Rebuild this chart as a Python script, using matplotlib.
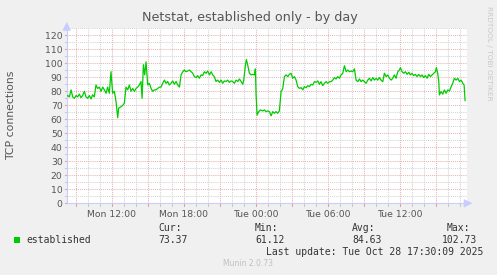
import matplotlib
matplotlib.use("Agg")
import matplotlib.pyplot as plt
import numpy as np

# ---- data (hours since Mon 00:00, TCP connections) ----
hours = [
    8.19, 8.33, 8.47, 8.61, 8.75, 8.89, 9.03, 9.16, 9.30, 9.44, 9.58, 9.72, 9.86, 10.00,
    10.14, 10.28, 10.41, 10.55, 10.69, 10.83, 10.97, 11.11, 11.25, 11.39, 11.53, 11.66,
    11.80, 11.94, 12.08, 12.22, 12.36, 12.50, 12.58, 12.78, 12.92, 13.05, 13.19, 13.33,
    13.47, 13.61, 13.75, 13.89, 14.03, 14.16, 14.30, 14.44, 14.53, 14.64, 14.75, 14.86,
    15.00, 15.14, 15.28, 15.41, 15.55, 15.69, 15.83, 15.97, 16.11, 16.25, 16.39,
    16.53, 16.66, 16.80, 16.94, 17.08, 17.22, 17.36, 17.50, 17.64, 17.78, 17.92, 18.05,
    18.19, 18.33, 18.47, 18.61, 18.75, 18.89, 19.03, 19.16, 19.30, 19.44, 19.58, 19.72,
    19.86, 20.00, 20.14, 20.28, 20.41, 20.55, 20.69, 20.83, 20.97, 21.11, 21.25, 21.39,
    21.53, 21.66, 21.80, 21.94, 22.08, 22.22, 22.36, 22.50, 22.64, 22.78, 22.92, 23.00,
    23.14, 23.22, 23.33, 23.47, 23.61, 23.75, 23.89, 23.97, 24.03, 24.11, 24.25, 24.39,
    24.58, 24.72,
    24.86, 25.00, 25.14, 25.28, 25.42, 25.55, 25.69, 25.83, 25.97, 26.11, 26.25, 26.39,
    26.53, 26.67, 26.80, 26.94, 27.08, 27.22, 27.36, 27.50, 27.64, 27.78, 27.92, 28.05,
    28.19, 28.33, 28.47, 28.61, 28.75, 28.89, 29.03, 29.17, 29.30, 29.44, 29.58, 29.72,
    29.86, 30.00, 30.14, 30.28, 30.42, 30.55, 30.69, 30.83, 30.97, 31.11, 31.25, 31.39,
    31.53, 31.67, 31.80, 31.94, 32.08, 32.22, 32.36, 32.50, 32.64, 32.78, 32.92, 33.05,
    33.19, 33.33, 33.47, 33.61, 33.75, 33.89, 34.03, 34.16, 34.30, 34.44, 34.58, 34.72,
    34.86, 35.00, 35.14, 35.28, 35.41, 35.55, 35.69, 35.83, 35.97, 36.05, 36.19, 36.33,
    36.47, 36.61, 36.75, 36.89, 37.02, 37.16, 37.30, 37.44, 37.58, 37.72, 37.86, 37.99,
    38.13, 38.27, 38.41, 38.55, 38.69, 38.83, 38.97, 39.05, 39.16, 39.25, 39.30, 39.44,
    39.58, 39.72, 39.86, 40.00, 40.14, 40.28, 40.41, 40.55, 40.69, 40.83, 40.97, 41.11,
    41.25, 41.36, 41.44,
]
established = [
    76.2, 77, 76, 81, 76, 75, 77, 76, 78, 75.5, 77, 80, 76, 75,
    77, 74.5, 77.5, 76, 84.5, 82, 83, 80, 83, 81, 78.6, 83,
    78.6, 94, 78.6, 80, 72.6, 61.12, 68, 69, 70, 71.4, 83, 81,
    84.5, 80, 82, 80, 82, 83, 84.5, 87, 75, 99, 91.7, 101,
    84.5, 85.7, 82, 80, 81, 81, 82, 83, 83, 85.7, 88,
    85.7, 87, 84.5, 85.7, 87.4, 85, 87, 84.5, 83, 91.7, 94, 95.2,
    94, 94.5, 95.2, 94, 92.9, 90.5, 89.8, 91.2, 89.3, 91.7, 91.2, 94,
    92.9, 94.5, 91.7, 94, 91.7, 90.5, 87, 88, 86.4, 88, 85.7, 87.4,
    87, 88, 86.4, 87.4, 87, 85.7, 88, 87, 88.8, 87, 85, 88,
    98.8, 102.73, 98.8, 92.9, 91.7, 92.1, 91.7, 96, 77.4, 63, 65.5, 66.7,
    66, 66.7,
    65.5, 66, 65.5, 62.5, 65.5, 64.3, 65.5, 64.3, 66, 79.8, 82, 90.5,
    91.7, 90.5, 92.1, 92.9, 89.3, 90.5, 88, 83.3, 82.1, 82.6, 81, 83.3,
    82.6, 84, 83.3, 85, 84.5, 86.9, 86.4, 87.4, 85, 86.9, 84, 85.7,
    86.9, 85.7, 86.9, 86.9, 88, 89.8, 88.8, 90.5, 89.3, 91.7, 92.9, 98.3,
    94, 95.2, 94, 94.5, 94, 96, 88, 86.9, 88.8, 86.9, 88, 86.9,
    85.7, 88, 89.3, 87.4, 89.8, 88, 89.3, 88, 89.8, 88, 86.9, 92.9,
    90.5, 91.7, 89.3, 88, 89.3, 91.7, 89.3, 94, 95.2, 96.9, 94, 92.9,
    94, 92.1, 93.6, 91.7, 92.9, 91.2, 92.1, 90.5, 92.1, 90.5, 91.7, 89.8,
    91.2, 89.3, 92.1, 90.5, 91.7, 92.9, 94, 96.9, 92.9, 86.9, 77.4, 79.8,
    77.9, 81, 78.6, 81, 80.2, 83.3, 85.7, 89.3, 88, 89.3, 86.9, 88,
    85.7, 84.5, 73.37,
]
xtick_hours = [12, 18, 24, 30, 36]
xtick_labels = ["Mon 12:00", "Mon 18:00", "Tue 00:00", "Tue 06:00", "Tue 12:00"]
yticks = list(range(0, 121, 10))
stat_names = ["Cur:", "Min:", "Avg:", "Max:"]
stat_values = ["73.37", "61.12", "84.63", "102.73"]
series_name = "established"

BG = "#F0F0F0"
GREEN = "#00CC00"
AXCOL = "#C8CCFF"
MINOR = "#D4D4D4"
MAJOR = "#E8B4B4"
TXT = "#555555"

W, H = 497, 275
fig = plt.figure(figsize=(W / 100, H / 100), dpi=100, facecolor=BG)

x0, x1 = 66.7, 467.0
y0 = 203.3
xmin, xmax = 8.25, 41.6
ymax = 125.5
ytop = y0 - ymax * 1.4
ax = fig.add_axes([x0 / W, 1 - y0 / H, (x1 - x0) / W, (y0 - ytop) / H])
ax.set_facecolor("white")
ax.set_xlim(xmin, xmax)
ax.set_ylim(0, ymax)

dot = (0, (1, 1))
# grid lines
for h in np.arange(9, 42, 1):
    major = (h % 3 == 0)
    ax.axvline(h, color=MAJOR if major else MINOR, lw=0.75, ls=dot, zorder=1)
for v in range(5, 126, 5):
    major = (v % 10 == 0)
    ax.axhline(v, color=MAJOR if major else MINOR, lw=0.75, ls=dot, zorder=1)

ax.plot(hours, established, color=GREEN, lw=0.9, zorder=3, solid_joinstyle="round")

for s in ["top", "right"]:
    ax.spines[s].set_visible(False)
for s in ["left", "bottom"]:
    ax.spines[s].set_color(AXCOL)
    ax.spines[s].set_linewidth(0.8)

ax.set_yticks(yticks)
ax.set_yticklabels([str(v) for v in yticks])
ax.set_xticks(xtick_hours)
ax.set_xticklabels(xtick_labels)
ax.tick_params(axis="both", length=0, labelsize=6.7, labelcolor=TXT, pad=3)
ax.tick_params(axis="x", pad=5)

# small tick marks along the axes
for h in np.arange(9, 42, 1):
    ax.plot([h, h], [0, -1.6], color=("#E0A0A0" if h % 3 == 0 else "#C8C8C8"),
            lw=0.75, clip_on=False, zorder=2)
for v in range(0, 126, 5):
    ax.plot([xmin - 0.18, xmin], [v, v], color=("#E0A0A0" if v % 10 == 0 else "#C8C8C8"),
            lw=0.75, clip_on=False, zorder=2)

# arrows at axis ends
ax.annotate("", xy=(xmin, 129.5), xytext=(xmin, ymax), annotation_clip=False,
            arrowprops=dict(arrowstyle="-|>,head_length=0.5,head_width=0.25",
                            color=AXCOL, lw=0.8, shrinkA=0, shrinkB=0))
ax.annotate("", xy=(xmax + 0.45, 0), xytext=(xmax, 0), annotation_clip=False,
            arrowprops=dict(arrowstyle="-|>,head_length=0.5,head_width=0.25",
                            color=AXCOL, lw=0.8, shrinkA=0, shrinkB=0))

fig.text(11 / W, 1 - 115 / H, "TCP connections", rotation=90, ha="center", va="center",
         fontsize=7.8, color=TXT)

fig.text(250 / W, 1 - 17 / H, "Netstat, established only - by day", ha="center", va="center",
         fontsize=9.2, color=TXT)

fig.text(489 / W, 1 - 53 / H, "RRDTOOL / TOBI OETIKER", rotation=-90, ha="center", va="center",
         fontsize=5.3, color="#C8C8C8")

# legend
mono = "DejaVu Sans Mono"
fig.patches.append(plt.Rectangle((14 / W, 1 - 243 / H), 6 / W, 6 / H, transform=fig.transFigure,
                                 facecolor=GREEN, edgecolor="none"))
fig.text(26 / W, 1 - 240 / H, series_name, family=mono, fontsize=7, color="#333333",
         ha="left", va="center")
head_x = [158, 255, 352, 447]
val_x = [158, 255, 352, 442]
for name, val, hx, vx in zip(stat_names, stat_values, head_x, val_x):
    fig.text(hx / W, 1 - 228 / H, name, family=mono, fontsize=7, color="#333333",
             ha="left", va="center")
    fig.text(vx / W, 1 - 240 / H, val, family=mono, fontsize=7, color="#333333",
             ha="left", va="center")
fig.text(483 / W, 1 - 252 / H, "Last update: Tue Oct 28 17:30:09 2025", family=mono,
         fontsize=7, color="#333333", ha="right", va="center")
fig.text(248 / W, 1 - 264 / H, "Munin 2.0.73", fontsize=5.5, color="#C0C0C0",
         ha="center", va="center")

fig.savefig("out.png", dpi=100, facecolor=BG)
